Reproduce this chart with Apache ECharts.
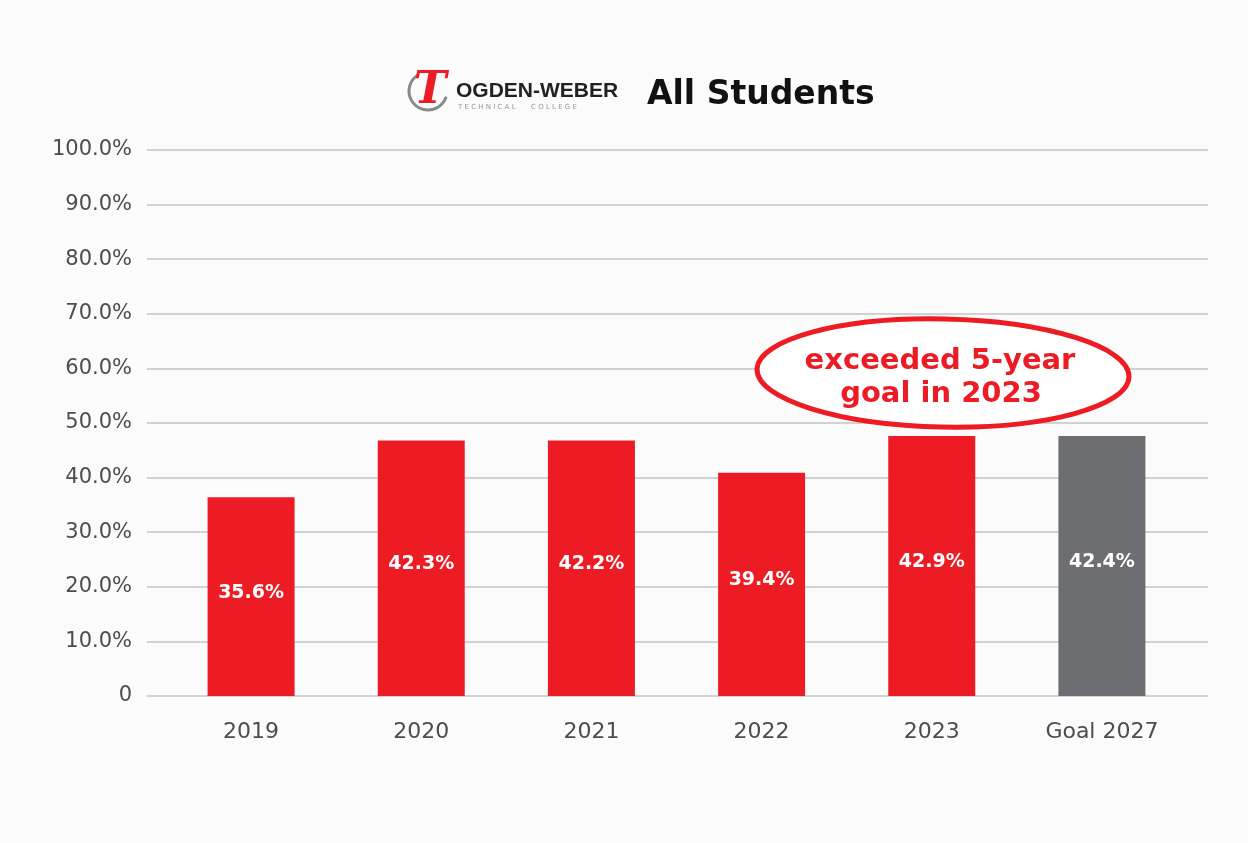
<!DOCTYPE html>
<html>
<head>
<meta charset="utf-8">
<script src="https://cdn.jsdelivr.net/npm/echarts@6/dist/echarts.min.js"></script>
<style>
  html, body { margin: 0; padding: 0; background: #fbfbfb; }
  #eChart { width: 1248px; height: 843px; }
</style>
</head>
<body>
<div id="eChart"></div>
<script>
// categories and values
var years = ['2019', '2020', '2021', '2022', '2023', 'Goal 2027'];
// bar heights as drawn on the axis
var barHeights = [36.4, 46.8, 46.8, 40.9, 47.6, 47.6];
// printed labels inside the bars
var barLabels = ['35.6%', '42.3%', '42.2%', '39.4%', '42.9%', '42.4%'];
var barColors = ['#ED1C24', '#ED1C24', '#ED1C24', '#ED1C24', '#ED1C24', '#6D6E71'];
var yTicks = [0, 10, 20, 30, 40, 50, 60, 70, 80, 90, 100];

var chart = echarts.init(document.getElementById('eChart'));

var option = {
  backgroundColor: '#fbfbfb',
  animation: false,
  grid: [
    // grid for the horizontal lines and y labels
    { left: 147, right: 40, top: 150, bottom: 147 },
    // grid for the bars
    { left: 166, right: 61, top: 150, bottom: 147 }
  ],
  xAxis: [
    { gridIndex: 0, type: 'category', data: years, show: false },
    {
      gridIndex: 1,
      type: 'category',
      data: years,
      axisLine: { show: false },
      axisTick: { show: false },
      axisLabel: {
        margin: 25,
        color: '#4d4d4d',
        fontFamily: 'DejaVu Sans',
        fontSize: 22
      }
    }
  ],
  yAxis: [
    {
      gridIndex: 0,
      type: 'value',
      min: yTicks[0],
      max: yTicks[yTicks.length - 1],
      interval: 10,
      axisLine: { show: false },
      axisTick: { show: false },
      splitLine: { lineStyle: { color: '#d2d2d2', width: 2 } },
      axisLabel: {
        margin: 15,
        color: '#4d4d4d',
        fontFamily: 'DejaVu Sans',
        fontSize: 21,
        formatter: function (v) { return v === 0 ? '0' : v.toFixed(1) + '%'; }
      }
    },
    {
      gridIndex: 1,
      type: 'value',
      min: yTicks[0],
      max: yTicks[yTicks.length - 1],
      interval: 10,
      show: false
    }
  ],
  series: [
    {
      type: 'bar',
      xAxisIndex: 1,
      yAxisIndex: 1,
      barWidth: 87,
      data: barHeights.map(function (v, i) {
        return {
          value: v,
          itemStyle: { color: barColors[i] },
          label: { formatter: barLabels[i] }
        };
      }),
      label: {
        show: true,
        position: 'inside',
        offset: [0, -4],
        color: '#fff',
        fontFamily: 'DejaVu Sans',
        fontWeight: 'bold',
        fontSize: 19
      }
    }
  ],
  graphic: [
    // logo: grey ring + red T
    {
      type: 'arc', z: 10,
      shape: { cx: 428, cy: 91, r: 19, startAngle: 0.3, endAngle: 4.2 },
      style: { stroke: '#8a8a8a', lineWidth: 3, fill: null }
    },
    {
      type: 'text', z: 11,
      style: {
        x: 430, y: 92, text: 'T', align: 'center', verticalAlign: 'middle',
        fill: '#ED1C24', font: 'italic bold 44px "DejaVu Serif"'
      }
    },
    {
      type: 'text', z: 10,
      style: {
        x: 456, y: 91, text: 'OGDEN-WEBER', verticalAlign: 'middle',
        fill: '#222', font: 'bold 21px "Liberation Sans Narrow", "Liberation Sans"'
      }
    },
    {
      type: 'text', z: 10,
      style: {
        x: 458, y: 107, text: 'T E C H N I C A L       C O L L E G E', verticalAlign: 'middle',
        fill: '#999', font: '7px "DejaVu Sans"'
      }
    },
    {
      type: 'text', z: 10,
      style: {
        x: 647, y: 95, text: 'All Students', verticalAlign: 'middle',
        fill: '#111', font: 'bold 33px "DejaVu Sans"'
      }
    },
    // stamp
    {
      type: 'ellipse', z: 10,
      shape: { cx: 943, cy: 373, rx: 186, ry: 54 },
      rotation: -0.02,
      originX: 943, originY: 373,
      style: { stroke: '#ED1C24', lineWidth: 5, fill: '#fff' }
    },
    {
      type: 'text', z: 11,
      style: {
        x: 940, y: 361, text: 'exceeded 5-year', align: 'center', verticalAlign: 'middle',
        fill: '#ED1C24', font: 'bold 29px "DejaVu Sans"'
      }
    },
    {
      type: 'text', z: 11,
      style: {
        x: 941, y: 394, text: 'goal in 2023', align: 'center', verticalAlign: 'middle',
        fill: '#ED1C24', font: 'bold 29px "DejaVu Sans"'
      }
    }
  ]
};

chart.setOption(option);
</script>
</body>
</html>
